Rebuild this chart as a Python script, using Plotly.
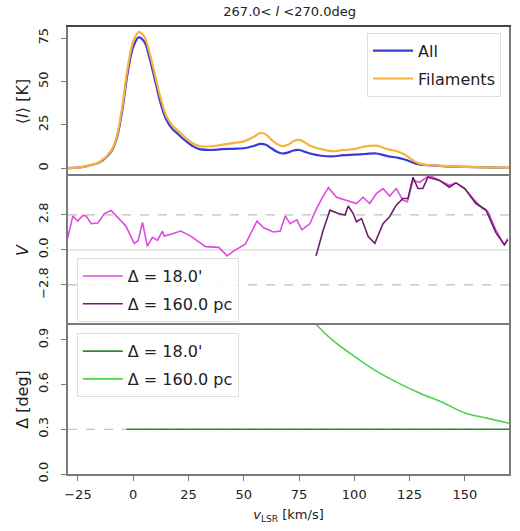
import plotly.graph_objects as go
from plotly.subplots import make_subplots

# top panel: mean brightness temperature
v_int = [-30, -25, -20, -15, -10, -7.5, -5, -2.5, 0, 2.5, 5, 7.5, 10, 12.5, 15, 17.5,
         20, 22.5, 25, 27.5, 30, 35, 40, 45, 50, 55, 57.5, 60, 62.5, 65, 67.5, 70,
         72.5, 75, 77.5, 80, 85, 90, 95, 100, 105, 110, 115, 120, 122.5, 125, 127.5,
         130, 135, 140, 150, 160, 170]
I_all = [0.0, 0.3, 1.5, 3.5, 9.5, 17, 33, 55, 70, 75.5, 73, 63, 50, 37, 28, 23,
         20, 17, 14.5, 12.3, 11, 10.5, 11, 11.2, 11.5, 13, 14, 13.5, 11.5, 9.5, 8.5, 9,
         10.2, 10.5, 9.5, 8.5, 7.2, 6.8, 7.5, 7.8, 8.2, 8.5, 7, 6, 5.2, 4, 2.8,
         2, 1.6, 1.2, 0.8, 0.5, 0.2]
I_fil = [0.0, 0.3, 1.5, 3.8, 10, 18, 35, 58, 73, 78.5, 76, 66, 53, 40, 30, 25,
         22, 19, 16, 14, 12.8, 12.6, 13.5, 14.5, 15.5, 18.5, 20.3, 19.5, 16.5, 14, 12.8, 13.5,
         15.5, 16.3, 15, 13, 11, 9.8, 10.5, 11, 12.6, 13, 11, 9.5, 8, 6, 3.8,
         2.5, 1.7, 1.3, 0.8, 0.5, 0.2]

# middle panel: projected Rayleigh statistic
v_ang = [-29.6, -27.3, -25.1, -22.8, -21.3, -19, -16, -13, -10, -7, -3.3, 0.5, 2.25,
         4.2, 6.4, 8.7, 11, 13.2, 14, 17, 21.5, 26, 29, 32.7, 38.7, 42.5, 45.5, 50.7,
         56, 59, 63.5, 66.5, 68.8, 71, 74, 76.3, 80, 82.3, 85.3, 88.3, 92, 96.5, 101,
         104, 107, 110, 113, 116, 119, 122, 124, 126.6, 129.6, 134, 138.6, 143, 146,
         150, 154.4, 158, 160.4, 164, 167.9, 169.4]
V_ang = [0.98, 2.7, 2.3, 2.75, 2.7, 2.1, 2.15, 2.9, 3.15, 2.56, 1.9, 0.5, 0.75,
         2.2, 0.3, 1.0, 0.75, 1.5, 1.1, 1.24, 1.5, 1.1, 0.75, 0.26, 0.2, -0.48, -0.08, 0.45,
         2.3, 1.77, 1.43, 1.5, 2.7, 2.1, 2.4, 1.6, 2.1, 3.05, 4.1, 4.97, 4.2, 3.97, 3.7,
         4.2, 3.7, 4.5, 4.9, 4.3, 4.9, 3.97, 3.84, 5.55, 5.4, 5.95, 5.55, 5.16, 5.35,
         4.9, 3.97, 3.3, 3.05, 1.6, 0.4, 0.9]
v_pc = [82.7, 86, 89, 92.8, 95.8, 97.3, 99.5, 101, 103.3, 106.3, 109.3, 113, 116,
        119, 122, 124.3, 126.6, 128.8, 131, 133.3, 138.6, 143, 146, 150, 155, 159.6,
        164, 167.9, 169.4]
V_pc = [-0.48, 1.6, 3.17, 2.9, 2.78, 3.5, 2.9, 2.25, 2.5, 1.06, 0.53, 2.1, 2.65,
        3.57, 4.1, 4.1, 5.8, 4.9, 4.9, 5.8, 5.55, 5.0, 5.35, 4.9, 3.7, 3.2,
        1.4, 0.4, 0.8]

# bottom panel: smoothing size in degrees
v_d_ang = [-3, 170]
d_ang = [0.3, 0.3]
v_d_pc = [83, 90, 100, 110, 120, 130, 140, 150, 160, 170]
d_pc = [1.0, 0.90, 0.79, 0.69, 0.61, 0.54, 0.48, 0.41, 0.375, 0.34]

V_lines = [-2.8, 2.8]
d_line = 0.3

FONT = "DejaVu Sans"
AX = "#7a7a7a"
XR = [-29.5, 170]

fig = make_subplots(rows=3, cols=1, shared_xaxes=True, vertical_spacing=0)

fig.add_trace(go.Scatter(x=v_int, y=I_all, name="All", mode="lines",
                         line=dict(color="#3a3ad6", width=2.2, shape="spline"),
                         legend="legend", legendgroup="a"), row=1, col=1)
fig.add_trace(go.Scatter(x=v_int, y=I_fil, name="Filaments", mode="lines",
                         line=dict(color="#f7b23a", width=2.2, shape="spline"),
                         legend="legend", legendgroup="b"), row=1, col=1)

# reference lines
for yv in V_lines:
    fig.add_trace(go.Scatter(x=XR, y=[yv, yv], mode="lines", showlegend=False,
                             hoverinfo="skip",
                             line=dict(color="#bdbdbd", width=1.3, dash="dash")),
                  row=2, col=1)
fig.add_trace(go.Scatter(x=XR, y=[0, 0], mode="lines", showlegend=False,
                         hoverinfo="skip", line=dict(color="#d8d8d8", width=1.2)),
              row=2, col=1)
fig.add_trace(go.Scatter(x=XR, y=[d_line, d_line], mode="lines", showlegend=False,
                         hoverinfo="skip",
                         line=dict(color="#c4c4c4", width=1.3, dash="dash")),
              row=3, col=1)

fig.add_trace(go.Scatter(x=v_ang, y=V_ang, name="Δ = 18.0'", mode="lines",
                         line=dict(color="#e04ae0", width=1.6),
                         legend="legend2", legendgroup="c"), row=2, col=1)
fig.add_trace(go.Scatter(x=v_pc, y=V_pc, name="Δ = 160.0 pc", mode="lines",
                         line=dict(color="#6b1f6b", width=1.6),
                         legend="legend2", legendgroup="d"), row=2, col=1)

fig.add_trace(go.Scatter(x=v_d_ang, y=d_ang, name="Δ = 18.0'", mode="lines",
                         line=dict(color="#2e8b2e", width=1.6),
                         legend="legend3", legendgroup="e"), row=3, col=1)
fig.add_trace(go.Scatter(x=v_d_pc, y=d_pc, name="Δ = 160.0 pc", mode="lines",
                         line=dict(color="#4cd24c", width=1.6, shape="spline"),
                         legend="legend3", legendgroup="f"), row=3, col=1)

leg = dict(bgcolor="rgba(255,255,255,0.85)", bordercolor="#dddddd", borderwidth=1,
           font=dict(family=FONT, size=16, color="#222"), itemwidth=40,
           tracegroupgap=4)

fig.update_layout(
    width=520, height=531,
    margin=dict(l=68, r=9, t=27, b=57),
    paper_bgcolor="white", plot_bgcolor="white",
    font=dict(family=FONT, size=13, color="#222"),
    title=dict(text="267.0< <i>l</i> <270.0deg", x=0.557, xanchor="center",
               y=1, yanchor="top", pad=dict(t=7), font=dict(size=13, color="#222")),
    legend=dict(leg, x=0.982, xanchor="right", y=0.987, yanchor="top"),
    legend2=dict(leg, x=0.02, xanchor="left", y=0.483, yanchor="top"),
    legend3=dict(leg, x=0.02, xanchor="left", y=0.315, yanchor="top"),
)

common = dict(showline=True, linecolor=AX, linewidth=1.5,
              showgrid=False, zeroline=False, ticks="outside", ticklen=5,
              tickcolor=AX, tickfont=dict(size=13, color="#222"))

fig.update_xaxes(common, range=XR, tickvals=[-25, 0, 25, 50, 75, 100, 125, 150])
# upper panels: only draw their top edge so shared borders stay single
fig.update_xaxes(ticks="", side="top", mirror=False, linecolor="#444", row=1, col=1)
fig.update_xaxes(ticks="", side="top", mirror=False, row=2, col=1)
fig.update_xaxes(mirror=True, ticklabelstandoff=3,
                 title=dict(text="<i>v</i><sub>LSR</sub> [km/s]", standoff=9,
                            font=dict(size=13)), row=3, col=1)

fig.update_yaxes(common, mirror=True, tickangle=-90, ticklabelstandoff=8)
fig.update_yaxes(range=[-4.5, 81.5], tickvals=[0, 25, 50, 75],
                 title=dict(text="⟨<i>I</i>⟩ [K]", standoff=3), row=1, col=1)
fig.update_yaxes(range=[-6.0, 5.9], tickvals=[-2.8, 0, 2.8],
                 ticktext=["−2.8", "0.0", "2.8"],
                 title=dict(text="<i>V</i>", standoff=3), row=2, col=1)
fig.update_yaxes(range=[0, 1.0], tickvals=[0, 0.3, 0.6, 0.9],
                 ticktext=["0.0", "0.3", "0.6", "0.9"],
                 title=dict(text="Δ [deg]", standoff=3), row=3, col=1)

# the page's default body margin would shift the figure by 8px
fig.write_html("out.html", config={"displayModeBar": False},
               post_script="document.body.style.margin='0';")
